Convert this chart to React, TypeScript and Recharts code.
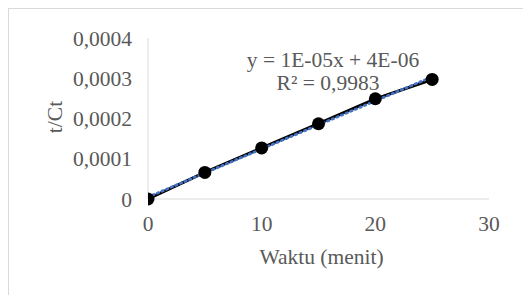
import React from 'react';
import { LineChart, Line, XAxis, YAxis, Label } from 'recharts';

// values
const waktu = [0, 5, 10, 15, 20, 25];
const tPerCt = [0, 0.000066, 0.000127, 0.000187, 0.000249, 0.000297];
const trendX = [0, 25];
const trendY = [0.0000048, 0.0003035];
const xTicks = [0, 10, 20, 30];
const yTicks = [0, 0.0001, 0.0002, 0.0003, 0.0004];
const yTickLabels = ['0', '0,0001', '0,0002', '0,0003', '0,0004'];
const equationText = 'y = 1E-05x + 4E-06';
const r2Text = 'R² = 0,9983';

const FONT = 'Liberation Serif';
const FS = 21.5;
const TEXT = '#595959';
const GRID = '#d9d9d9';

const rows = waktu.map((x, i) => ({ x, y: tPerCt[i] }));
const trendRows = trendX.map((x, i) => ({ x, trend: trendY[i] }));

const tickStyle = { fill: TEXT, fontSize: FS, fontFamily: FONT };

export default function App() {
  return (
    <div
      style={{
        width: 523,
        height: 287,
        borderLeft: `1px solid ${GRID}`,
        borderTop: `1px solid ${GRID}`,
        overflow: 'hidden',
        background: '#fff',
        boxSizing: 'border-box',
        fontFamily: FONT,
      }}
    >
      <LineChart
        width={522}
        height={286}
        margin={{ top: 29, right: 42, left: 0, bottom: 0 }}
        style={{ fontFamily: FONT }}
      >
        <XAxis
          dataKey="x"
          type="number"
          domain={[0, 30]}
          ticks={xTicks}
          height={96}
          tickLine={false}
          tickSize={0}
          tickMargin={17}
          axisLine={{ stroke: GRID, strokeWidth: 1 }}
          tick={tickStyle}
          allowDataOverflow
        >
          <Label
            content={({ viewBox }: any) => (
              <g>
                <text x={viewBox.x + viewBox.width / 2 + 3} y={viewBox.y + 64.5} textAnchor="middle" fill={TEXT} fontSize={FS} fontFamily={FONT}>
                  Waktu (menit)
                </text>
                <text x={324} y={57.5} textAnchor="middle" fill={TEXT} fontSize={FS} fontFamily={FONT}>
                  {equationText}
                </text>
                <text x={319} y={81} textAnchor="middle" fill={TEXT} fontSize={FS} fontFamily={FONT}>
                  {r2Text}
                </text>
              </g>
            )}
          />
        </XAxis>
        <YAxis
          type="number"
          domain={[0, 0.0004]}
          ticks={yTicks}
          width={139}
          tickLine={false}
          tickSize={0}
          tickMargin={16}
          axisLine={{ stroke: GRID, strokeWidth: 1 }}
          tick={tickStyle}
          tickFormatter={(v: number) => yTickLabels[yTicks.indexOf(v)] ?? String(v)}
        >
          <Label
            content={({ viewBox }: any) => {
              const cy = viewBox.y + viewBox.height / 2 - 1.5;
              return (
                <text
                  x={52.5}
                  y={cy}
                  transform={`rotate(-90 52.5 ${cy})`}
                  textAnchor="middle"
                  fill={TEXT}
                  fontSize={FS}
                  fontFamily={FONT}
                >
                  t/Ct
                </text>
              );
            }}
          />
        </YAxis>
        <Line
          data={rows}
          dataKey="y"
          stroke="#000"
          strokeWidth={3}
          dot={{ r: 6.5, fill: '#000', stroke: '#000', strokeWidth: 0 }}
          activeDot={false}
          isAnimationActive={false}
        />
        <Line
          data={trendRows}
          dataKey="trend"
          stroke="#4472C4"
          strokeWidth={2.75}
          strokeDasharray="1.5 3.5"
          strokeLinecap="round"
          dot={false}
          activeDot={false}
          isAnimationActive={false}
        />
      </LineChart>
    </div>
  );
}
